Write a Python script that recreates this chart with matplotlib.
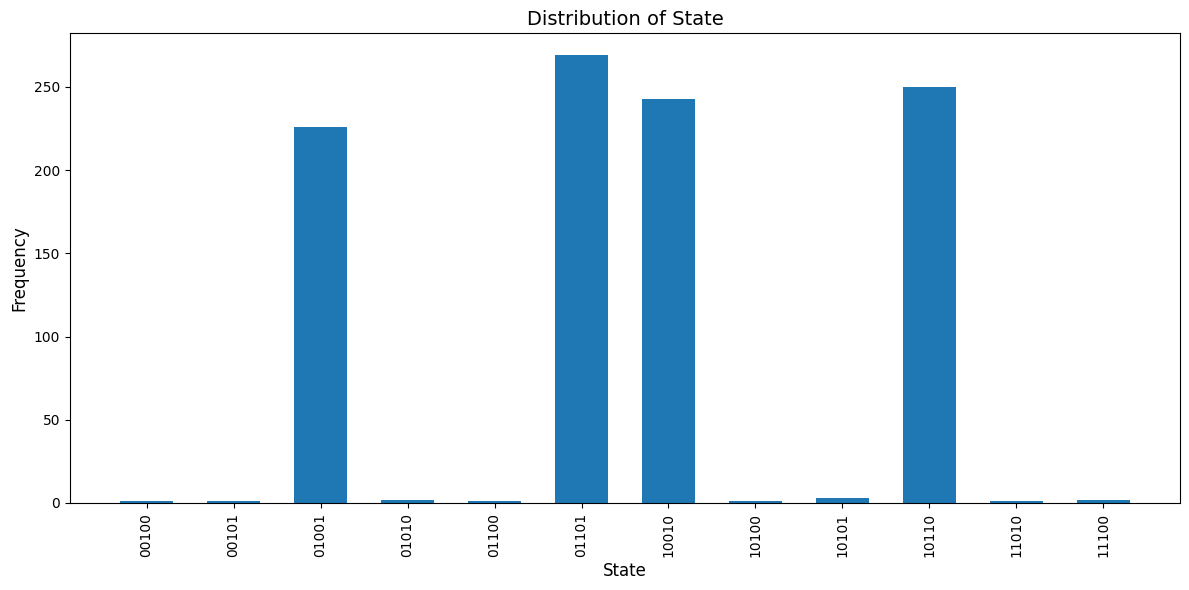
import matplotlib
matplotlib.use("Agg")
import matplotlib.pyplot as plt

states = ["00100", "00101", "01001", "01010", "01100", "01101",
          "10010", "10100", "10101", "10110", "11010", "11100"]
counts = [1, 1, 226, 2, 1, 269, 243, 1, 3, 250, 1, 2]

fig, ax = plt.subplots(figsize=(11.89, 5.9), dpi=100)
ax.bar(range(len(states)), counts, width=0.6, color="#1f77b4")
ax.set_xticks(range(len(states)))
ax.set_xticklabels(states, rotation=90)
ax.set_xlabel("State", fontsize=12)
ax.set_ylabel("Frequency", fontsize=12)
ax.set_title("Distribution of State", fontsize=14)
fig.subplots_adjust(left=70 / 1189, right=1180 / 1189, top=1 - 33 / 590, bottom=1 - 503 / 590)
plt.savefig("out.png")
